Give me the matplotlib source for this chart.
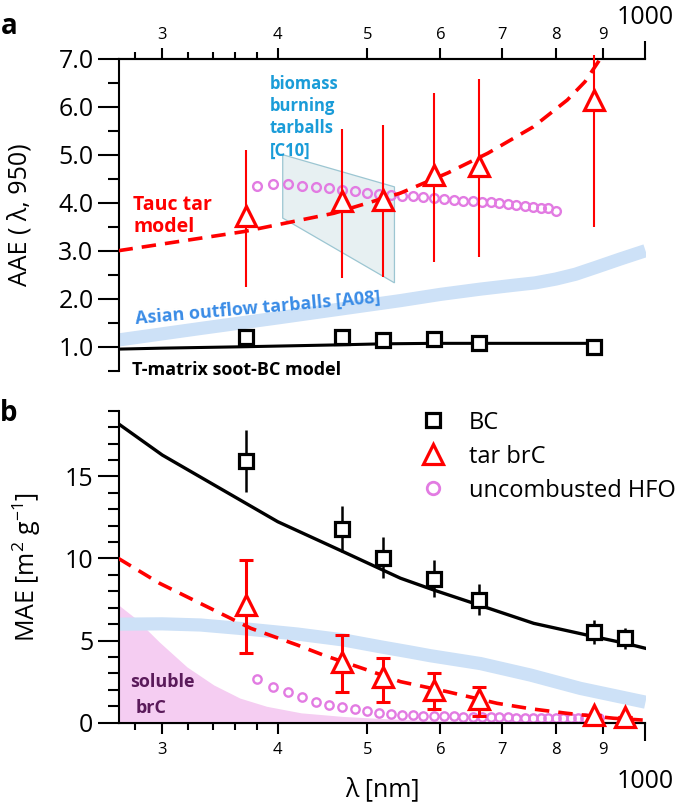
import matplotlib
matplotlib.use("Agg")
import matplotlib.pyplot as plt
from matplotlib.lines import Line2D
from matplotlib.patches import Polygon
from matplotlib.ticker import NullFormatter, NullLocator

plt.rcParams["font.family"] = ["Open Sans", "DejaVu Sans"]
plt.rcParams["mathtext.fontset"] = "custom"
plt.rcParams["mathtext.rm"] = "Open Sans"
plt.rcParams["axes.linewidth"] = 1.5

RED = "#ff0000"
VIOLET = "#e27be2"
BAND = "#cde1f7"
PINK = "#f5cdf2"

# --- panel a: absorption Angstrom exponent ---
wl_meas = [370, 470, 520, 590, 660, 880]
aae_tar = [3.72, 4.03, 4.06, 4.58, 4.77, 6.15]
aae_tar_lo = [2.25, 2.43, 2.46, 2.77, 2.86, 3.50]
aae_tar_hi = [5.10, 5.53, 5.62, 6.29, 6.57, 7.08]
aae_bc = [1.21, 1.21, 1.14, 1.16, 1.07, 1.00]

wl_tauc_a = [269, 368, 460, 543, 611, 675, 756, 823, 860, 890, 905]
aae_tauc = [3.00, 3.40, 3.78, 4.20, 4.62, 5.03, 5.58, 6.14, 6.52, 6.95, 7.20]

wl_tmat = [269, 300, 370, 470, 520, 590, 660, 880]
aae_tmat = [0.95, 0.97, 1.00, 1.04, 1.06, 1.07, 1.07, 1.07]

wl_a08 = [269, 330, 400, 470, 543, 600, 663, 720, 760, 800, 840, 886, 940, 1000]
aae_a08 = [1.14, 1.38, 1.60, 1.79, 1.96, 2.09, 2.20, 2.28, 2.33, 2.41, 2.51, 2.66, 2.83, 3.00]

wl_c10 = [405, 405, 535, 535]
aae_c10 = [5.00, 3.68, 2.33, 4.33]

wl_hfo_a = [380, 395, 410, 425, 440, 455, 470, 485, 500, 515, 530, 545, 560, 575, 590,
            605, 620, 635, 650, 665, 680, 695, 710, 725, 740, 755, 770, 785, 800]
aae_hfo = [4.35, 4.40, 4.40, 4.34, 4.33, 4.30, 4.27, 4.24, 4.21, 4.19, 4.16, 4.14, 4.13, 4.11, 4.09,
           4.07, 4.05, 4.04, 4.03, 4.02, 4.01, 3.99, 3.97, 3.96, 3.94, 3.92, 3.90, 3.89, 3.83]

# --- panel b: mass absorption efficiency ---
wl_meas_b = [370, 470, 520, 590, 660, 880, 950]
mae_bc = [15.94, 11.80, 10.05, 8.75, 7.47, 5.50, 5.14]
mae_bc_lo = [14.07, 10.40, 8.79, 7.67, 6.56, 4.79, 4.47]
mae_bc_hi = [17.83, 13.20, 11.29, 9.91, 8.45, 6.25, 5.79]
mae_tar = [7.17, 3.72, 2.80, 1.99, 1.42, 0.47, 0.37]
mae_tar_lo = [4.27, 1.89, 1.26, 0.82, 0.41, 0.47, 0.37]
mae_tar_hi = [9.91, 5.34, 3.96, 3.05, 2.19, 0.47, 0.37]

wl_bcm = [269, 300, 400, 471, 543, 590, 660, 757, 880, 950, 1000]
mae_bcm = [18.20, 16.30, 12.24, 10.41, 8.80, 8.08, 7.17, 6.05, 5.24, 4.84, 4.53]

wl_tauc_b = [269, 298, 338, 374, 420, 448, 500, 543, 610, 691, 751, 823, 924, 1000]
mae_tauc = [10.00, 8.49, 6.97, 5.75, 4.73, 4.12, 3.21, 2.50, 1.89, 1.18, 0.85, 0.57, 0.27, 0.15]

wl_a08b = [269, 300, 330, 368, 420, 471, 517, 557, 585, 663, 751, 850, 1000]
mae_a08b = [6.00, 6.02, 5.95, 5.72, 5.40, 5.04, 4.62, 4.30, 4.08, 3.60, 2.90, 2.09, 1.25]

wl_sol = [269, 280, 298, 319, 341, 364, 389, 424, 471, 520, 600, 700, 800, 1000]
mae_sol = [7.17, 6.40, 4.90, 3.40, 2.30, 1.50, 1.00, 0.60, 0.38, 0.25, 0.12, 0.05, 0.02, 0.00]

wl_hfo_b = [380, 395, 410, 425, 440, 455, 470, 485, 500, 515, 530, 545, 560, 575, 590, 605, 620, 635,
            650, 665, 680, 695, 710, 725, 740, 755, 770, 785, 800, 815, 830, 845, 860, 875, 890]
mae_hfo = [2.64, 2.19, 1.89, 1.55, 1.28, 1.08, 0.94, 0.82, 0.71, 0.61, 0.53, 0.47, 0.45, 0.43, 0.41, 0.40,
           0.38, 0.37, 0.36, 0.35, 0.34, 0.33, 0.32, 0.31, 0.31, 0.30, 0.30, 0.29, 0.29, 0.28, 0.28,
           0.28, 0.27, 0.27, 0.27]

x_major = [300, 400, 500, 600, 700, 800, 900]
x_major_labels = ["3", "4", "5", "6", "7", "8", "9"]
x_minor = [280, 320, 340, 360, 380]

fig = plt.figure(figsize=(6.85, 8.06), dpi=100)
W, H = 685, 806
ax1 = fig.add_axes([118.5 / W, 1 - 370.7 / H, 527 / W, 312 / H])
ax2 = fig.add_axes([118.5 / W, 1 - 722.7 / H, 527 / W, 312 / H])


def style_x(ax, top):
    ax.set_xscale("log")
    ax.set_xlim(269, 1000)
    ax.set_xticks(x_major, labels=x_major_labels)
    ax.set_xticks(x_minor, minor=True)
    ax.xaxis.set_minor_formatter(NullFormatter())
    ax.tick_params(axis="x", which="major", direction="out", length=8, width=1.5,
                   labelsize=12, pad=3 if top else 6)
    ax.tick_params(axis="x", which="minor", direction="out", length=5, width=1.5)
    sec = ax.secondary_xaxis("top" if top else "bottom")
    sec.set_xticks([1000], labels=["1000"])
    sec.xaxis.set_minor_locator(NullLocator())
    sec.tick_params(axis="x", direction="out", length=13, width=1.5, labelsize=18,
                    pad=8 if top else 20)
    for s in sec.spines.values():
        s.set_linewidth(1.5)


# ---------------- panel a ----------------
ax1.xaxis.tick_top()
style_x(ax1, True)
ax1.spines[["bottom", "right"]].set_visible(False)
ax1.set_ylim(0.5, 7.0)
ax1.set_yticks([1, 2, 3, 4, 5, 6, 7], labels=["1.0", "2.0", "3.0", "4.0", "5.0", "6.0", "7.0"])
ax1.set_yticks([0.5, 1.5, 2.5, 3.5, 4.5, 5.5, 6.5], minor=True)
ax1.tick_params(axis="y", which="major", length=15, width=1.5, labelsize=18, pad=3)
ax1.tick_params(axis="y", which="minor", length=8, width=1.5)

ax1.add_patch(Polygon(list(zip(wl_c10, aae_c10)), closed=True, facecolor="#e7f0f2",
                      edgecolor="#9cc6d2", lw=0.9, zorder=1))
ax1.plot(wl_a08, aae_a08, color=BAND, lw=9.5, solid_capstyle="butt", zorder=1.5)
ax1.plot(wl_tmat, aae_tmat, color="black", lw=2.2, zorder=3)
ax1.plot(wl_hfo_a, aae_hfo, ls="none", marker="o", ms=6.3, mfc="none", mec=VIOLET, mew=1.7, zorder=2.5)
ax1.plot(wl_tauc_a, aae_tauc, color=RED, lw=2.6, ls=(0, (4, 2.5)), zorder=3)
ax1.vlines(wl_meas, aae_tar_lo, aae_tar_hi, color=RED, lw=1.5, zorder=3.5, clip_on=False)
ax1.plot(wl_meas, aae_tar, ls="none", marker="^", ms=14, mfc="white", mec=RED, mew=2.3, zorder=4)
ax1.plot(wl_meas, aae_bc, ls="none", marker="s", ms=9.6, mfc="white", mec="black", mew=2.3, zorder=4)

ax1.text(392, 5.78, "biomass\nburning\ntarballs\n[C10]", color="#1a9cd8", fontsize=12,
         fontweight="bold", ha="left", va="center", linespacing=1.3)
ax1.text(279, 3.73, "Tauc tar\nmodel", color=RED, fontsize=14, fontweight="bold",
         ha="left", va="center", linespacing=1.15)
ax1.text(381, 1.81, "Asian outflow tarballs [A08]", color="#3a8ce6", fontsize=13,
         fontweight="bold", ha="center", va="center", rotation=5, rotation_mode="anchor")
ax1.text(278, 0.51, "T-matrix soot-BC model", color="black", fontsize=13,
         fontweight="bold", ha="left", va="center")

# ---------------- panel b ----------------
style_x(ax2, False)
ax2.spines[["top", "right"]].set_visible(False)
ax2.set_ylim(0, 19)
ax2.set_yticks([0, 5, 10, 15])
ax2.set_yticks([1, 2, 3, 4, 6, 7, 8, 9, 11, 12, 13, 14, 16, 17, 18, 19], minor=True)
ax2.tick_params(axis="y", which="major", length=15, width=1.5, labelsize=18, pad=3)
ax2.tick_params(axis="y", which="minor", length=8, width=1.5)

ax2.fill_between(wl_sol, 0, mae_sol, color=PINK, lw=0, zorder=1)
ax2.plot(wl_a08b, mae_a08b, color=BAND, lw=9.5, solid_capstyle="butt", zorder=1.5)
ax2.plot(wl_hfo_b, mae_hfo, ls="none", marker="o", ms=6.0, mfc="none", mec=VIOLET, mew=1.7, zorder=2.5)
ax2.plot(wl_bcm, mae_bcm, color="black", lw=2.4, zorder=3)
ax2.plot(wl_tauc_b, mae_tauc, color=RED, lw=2.6, ls=(0, (4, 2.5)), zorder=3)
ax2.vlines(wl_meas_b, mae_bc_lo, mae_bc_hi, color="black", lw=1.8, zorder=3.5)
ax2.errorbar(wl_meas_b, mae_tar,
             yerr=[[m - lo for m, lo in zip(mae_tar, mae_tar_lo)],
                   [hi - m for m, hi in zip(mae_tar, mae_tar_hi)]],
             fmt="none", ecolor=RED, elinewidth=2.2, capsize=5, capthick=2.2, zorder=3.5)
ax2.plot(wl_meas_b, mae_tar, ls="none", marker="^", ms=14, mfc="white", mec=RED, mew=2.3,
         zorder=4, clip_on=False)
ax2.plot(wl_meas_b, mae_bc, ls="none", marker="s", ms=9.6, mfc="white", mec="black", mew=2.3, zorder=4)

ax2.text(277, 2.5, "soluble", color="#5a1a5a", fontsize=13, fontweight="bold", ha="left", va="center")
ax2.text(281, 0.91, "brC", color="#5a1a5a", fontsize=13, fontweight="bold", ha="left", va="center")

handles = [
    Line2D([], [], ls="none", marker="s", ms=10.5, mfc="white", mec="black", mew=2.3),
    Line2D([], [], ls="none", marker="^", ms=14, mfc="white", mec=RED, mew=2.3),
    Line2D([], [], ls="none", marker="o", ms=9, mfc="none", mec=VIOLET, mew=2.0),
]
ax2.legend(handles, ["BC", "tar brC", "uncombusted HFO"], loc="upper left",
           bbox_to_anchor=(0.575, 1.0), frameon=False, fontsize=17, handlelength=1.0,
           handletextpad=1.0, labelspacing=0.42, borderpad=0, borderaxespad=0)

# --- labels ---
fig.text(20 / W, 1 - 215 / H, "AAE ( λ, 950)", rotation=90, ha="center", va="center", fontsize=18)
fig.text(27 / W, 1 - 567 / H, "MAE [m$^{2}$ g$^{-1}$]", rotation=90, ha="center", va="center", fontsize=18)
fig.text(382 / W, 1 - 790 / H, "λ [nm]", ha="center", va="center", fontsize=18)
fig.text(9 / W, 1 - 26 / H, "a", ha="center", va="center", fontsize=20, fontweight="bold")
fig.text(9 / W, 1 - 414 / H, "b", ha="center", va="center", fontsize=20, fontweight="bold")

fig.savefig("out.png", dpi=100)
